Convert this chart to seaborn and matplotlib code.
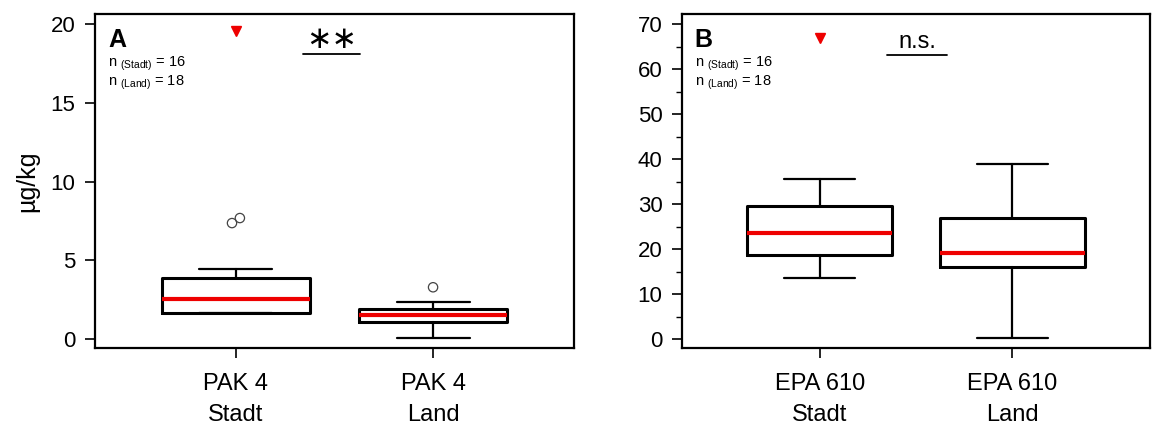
import numpy as np
import pandas as pd
import seaborn as sns
import matplotlib.pyplot as plt

# values (µg/kg)
groups = ["Stadt", "Land"]
pak_ticklabels = ["PAK 4\nStadt", "PAK 4\nLand"]
epa_ticklabels = ["EPA 610\nStadt", "EPA 610\nLand"]

pak_whislo = [1.68, 0.06]
pak_q1 = [1.68, 1.08]
pak_med = [2.55, 1.53]
pak_q3 = [3.86, 1.91]
pak_whishi = [4.46, 2.38]
pak_fliers = [[7.37, 7.69], [3.29]]
pak_offscale = [19.6, None]

epa_whislo = [13.5, 0.2]
epa_q1 = [18.7, 16.1]
epa_med = [23.6, 19.2]
epa_q3 = [29.5, 27.0]
epa_whishi = [35.7, 39.0]
epa_fliers = [[], []]
epa_offscale = [67.0, None]

n_counts = [16, 18]

sns.set_style("ticks")
plt.rcParams['font.family'] = ['Liberation Sans', 'DejaVu Sans']
plt.rcParams['mathtext.fontset'] = 'custom'
plt.rcParams['mathtext.rm'] = 'Liberation Sans'
plt.rcParams['mathtext.it'] = 'Liberation Sans:italic'
for key in ['text.color', 'axes.labelcolor', 'xtick.color', 'ytick.color',
            'axes.edgecolor']:
    plt.rcParams[key] = 'black'


def make_stats(lo, q1, med, q3, hi):
    stats = []
    for i in range(len(groups)):
        stats.append(dict(whislo=lo[i], q1=q1[i], med=med[i], q3=q3[i],
                          whishi=hi[i], fliers=[], label=groups[i]))
    return stats


def draw_panel(ax, stats, fliers, offscale, ticklabels, ylim, yticks, letter,
               sig, sig_y, sig_span, minor=None):
    ax.bxp(stats, positions=[0, 1], widths=0.75, capwidths=0.37,
           showfliers=False, patch_artist=False,
           boxprops=dict(color='black', linewidth=2.2),
           medianprops=dict(color='#ee0000', linewidth=3.0),
           whiskerprops=dict(color='black', linewidth=1.6),
           capprops=dict(color='black', linewidth=1.6))

    # outliers as open circles
    rows = []
    for i, f in enumerate(fliers):
        offs = np.linspace(-0.02, 0.02, len(f)) if len(f) > 1 else [0]
        for o, v in zip(offs, f):
            rows.append(dict(x=i + o, y=v))
    if rows:
        df = pd.DataFrame(rows)
        sns.scatterplot(data=df, x='x', y='y', ax=ax, marker='o', s=45,
                        facecolor='none', edgecolor='#444444', linewidth=0.9)

    # red markers for the off-scale value
    for i, v in enumerate(offscale):
        if v is not None:
            ax.plot(i, v, marker='v', color='#ee0000', markersize=7,
                    linestyle='none')

    ax.set_xlim(-0.715, 1.715)
    ax.set_ylim(*ylim)
    ax.set_yticks(yticks)
    if minor is not None:
        ax.set_yticks(minor, minor=True)
        ax.tick_params(axis='y', which='minor', length=4, width=1)
    ax.set_xticks([0, 1])
    ax.set_xticklabels(ticklabels, fontsize=17, linespacing=1.55)
    ax.tick_params(axis='both', which='major', direction='out', length=7,
                   width=1.2, labelsize=16, pad=7)
    ax.tick_params(axis='x', labelsize=17, pad=11)
    for sp in ax.spines.values():
        sp.set_visible(True)
        sp.set_linewidth(1.6)
        sp.set_color('black')
    ax.set_xlabel('')
    ax.set_ylabel('')

    ax.text(0.027, 0.922, letter, transform=ax.transAxes, fontsize=18,
            fontweight='bold', va='center', ha='left')
    ax.text(0.027, 0.85, r'n $_{\rm (Stadt)}$ = %d' % n_counts[0],
            transform=ax.transAxes, fontsize=10.5, va='center', ha='left')
    ax.text(0.027, 0.795, r'n $_{\rm (Land)}$ = %d' % n_counts[1],
            transform=ax.transAxes, fontsize=10.5, va='center', ha='left')

    # significance bar
    ax.plot(sig_span, [sig_y, sig_y], color='black', linewidth=1.3)
    span = ylim[1] - ylim[0]
    mid = sum(sig_span) / 2
    if sig == '**':
        ax.text(mid, sig_y + span * 0.0, '∗∗', fontsize=22, ha='center',
                va='bottom', family='DejaVu Sans')
    else:
        ax.text(mid, sig_y + span * 0.005, sig, fontsize=17, ha='center',
                va='bottom')


fig = plt.figure(figsize=(11.54, 4.26), dpi=100)
ax1 = fig.add_axes([95 / 1154, 78 / 426, 479 / 1154, 334 / 426])
ax2 = fig.add_axes([682 / 1154, 78 / 426, 468 / 1154, 334 / 426])

draw_panel(ax1, make_stats(pak_whislo, pak_q1, pak_med, pak_q3, pak_whishi),
           pak_fliers, pak_offscale, pak_ticklabels, (-0.57, 20.66),
           [0, 5, 10, 15, 20], 'A', '**', 18.09, [0.34, 0.63])
draw_panel(ax2, make_stats(epa_whislo, epa_q1, epa_med, epa_q3, epa_whishi),
           epa_fliers, epa_offscale, epa_ticklabels, (-2.0, 72.3),
           [0, 10, 20, 30, 40, 50, 60, 70], 'B', 'n.s.', 63.2, [0.35, 0.66],
           minor=[5, 15, 25, 35, 45, 55, 65])

ax1.set_ylabel('µg/kg', fontsize=18, labelpad=8)

fig.savefig('out.png', dpi=100)
